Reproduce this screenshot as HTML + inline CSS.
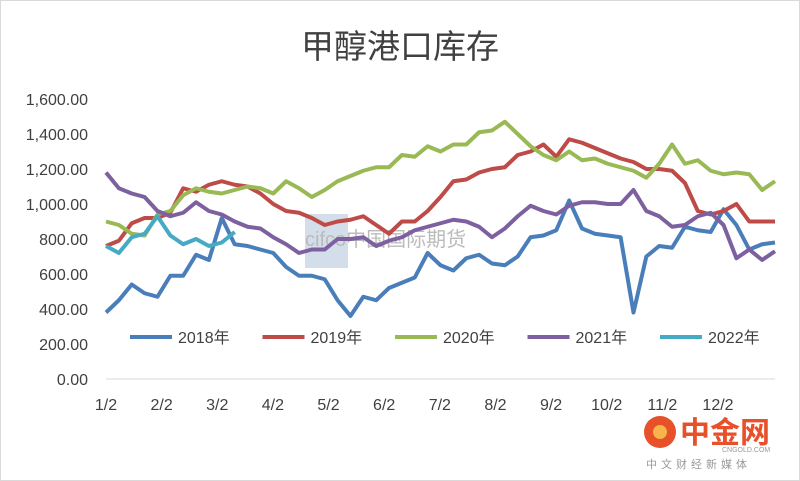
<!DOCTYPE html>
<html><head><meta charset="utf-8"><style>
body{margin:0;background:#fff;}
svg{display:block;font-family:"Liberation Sans","Noto Sans CJK SC",sans-serif;}
</style></head><body>
<svg id="c" width="800" height="481">
<rect x="0.5" y="0.5" width="799" height="480" fill="#fff" stroke="#d9d9d9"/>
<text x="400" y="58" text-anchor="middle" font-size="33" fill="#404040">甲醇港口库存</text>
<rect x="305" y="214" width="43" height="54" fill="#c8d6e5" opacity="0.8"/>
<text x="305" y="246" font-size="20" fill="#bbb">cifco中国国际期货</text>
<g id="yaxis"></g>
<g id="xaxis"></g>
<g id="series"></g>
<g id="legend"></g>
<g>
<circle cx="660" cy="432" r="16" fill="#e8502a"/>
<circle cx="660" cy="432" r="7" fill="#f6b54a"/>
<text x="680" y="443" font-size="30" font-weight="bold" fill="#e8502a">中金网</text>
<text x="722" y="452" font-size="7" fill="#999">CNGOLD.COM</text>
<text x="646" y="468" font-size="11" fill="#999" letter-spacing="4">中文财经新媒体</text>
</g>
</svg>
<script>
const yTicks=[0,200,400,600,800,1000,1200,1400,1600];
const yTickLabels=["0.00","200.00","400.00","600.00","800.00","1,000.00","1,200.00","1,400.00","1,600.00"];
const xLabels=["1/2","2/2","3/2","4/2","5/2","6/2","7/2","8/2","9/2","10/2","11/2","12/2"];
const seriesNames=["2018年","2019年","2020年","2021年","2022年"];
const s2018=[380,450,540,490,470,590,590,710,680,920,770,760,740,720,640,590,590,570,450,360,470,450,520,550,580,720,650,620,690,710,660,650,700,810,820,850,1020,860,830,820,810,380,700,760,750,870,850,840,970,880,740,770,780];
const s2019=[760,790,890,920,920,950,1090,1070,1110,1130,1110,1100,1060,1000,960,950,920,880,900,910,930,880,830,900,900,960,1040,1130,1140,1180,1200,1210,1280,1300,1340,1270,1370,1350,1320,1290,1260,1240,1200,1200,1190,1120,960,940,960,1000,900,900,900];
const s2020=[900,880,830,820,940,960,1050,1090,1070,1060,1080,1100,1090,1060,1130,1090,1040,1080,1130,1160,1190,1210,1210,1280,1270,1330,1300,1340,1340,1410,1420,1470,1400,1330,1280,1250,1300,1250,1260,1230,1210,1190,1150,1230,1340,1230,1250,1190,1170,1180,1170,1080,1130];
const s2021=[1180,1090,1060,1040,960,930,950,1010,960,940,900,870,860,810,770,720,740,740,800,800,810,760,790,810,850,870,890,910,900,870,810,860,930,990,960,940,990,1010,1010,1000,1000,1080,960,930,870,880,930,950,880,690,740,680,730];
const s2022=[760,720,810,830,930,820,770,800,760,780,840];
const colors=["#4a7ebb","#be4b48","#98b954","#7d60a0","#46aac5"];
const allSeries=[s2018,s2019,s2020,s2021,s2022];
const NS="http://www.w3.org/2000/svg";
const X0=106,X1=775,Y0=379,YMAX=1600,PH=280;
const maxLen=Math.max(...allSeries.map(a=>a.length));
function xs(i){return X0+i*(X1-X0)/(maxLen-1);}
function ys(v){return Y0-v/YMAX*PH;}
function mk(t,a,p){const e=document.createElementNS(NS,t);for(const k in a)e.setAttribute(k,a[k]);p.appendChild(e);return e;}
const ya=document.getElementById('yaxis');
yTicks.forEach((v,i)=>{const t=mk('text',{x:88,y:ys(v)+6,'text-anchor':'end','font-size':16,fill:'#404040'},ya);t.textContent=yTickLabels[i];

});
const xa=document.getElementById('xaxis');
const al=mk('line',{x1:X0,x2:X1,y1:Y0,y2:Y0,stroke:'#d9d9d9'},xa);


xLabels.forEach((l,i)=>{const x=X0+i*(718-X0)/11;const t=mk('text',{x:x,y:410,'text-anchor':'middle','font-size':16,fill:'#404040'},xa);t.textContent=l;

});
const sg=document.getElementById('series');
allSeries.forEach((s,k)=>{const p=mk('polyline',{points:s.map((v,i)=>xs(i)+','+ys(v)).join(' '),fill:'none',stroke:colors[k],'stroke-width':4,'stroke-linejoin':'round'},sg);

});
const lg=document.getElementById('legend');
seriesNames.forEach((n,k)=>{const x=130+k*132.5;const g=mk('g',{},lg);


mk('line',{x1:x,x2:x+42,y1:337,y2:337,stroke:colors[k],'stroke-width':4},g);
const t=mk('text',{x:x+48,y:343,'font-size':16,fill:'#404040'},g);t.textContent=n;});
</script>
</body></html>
